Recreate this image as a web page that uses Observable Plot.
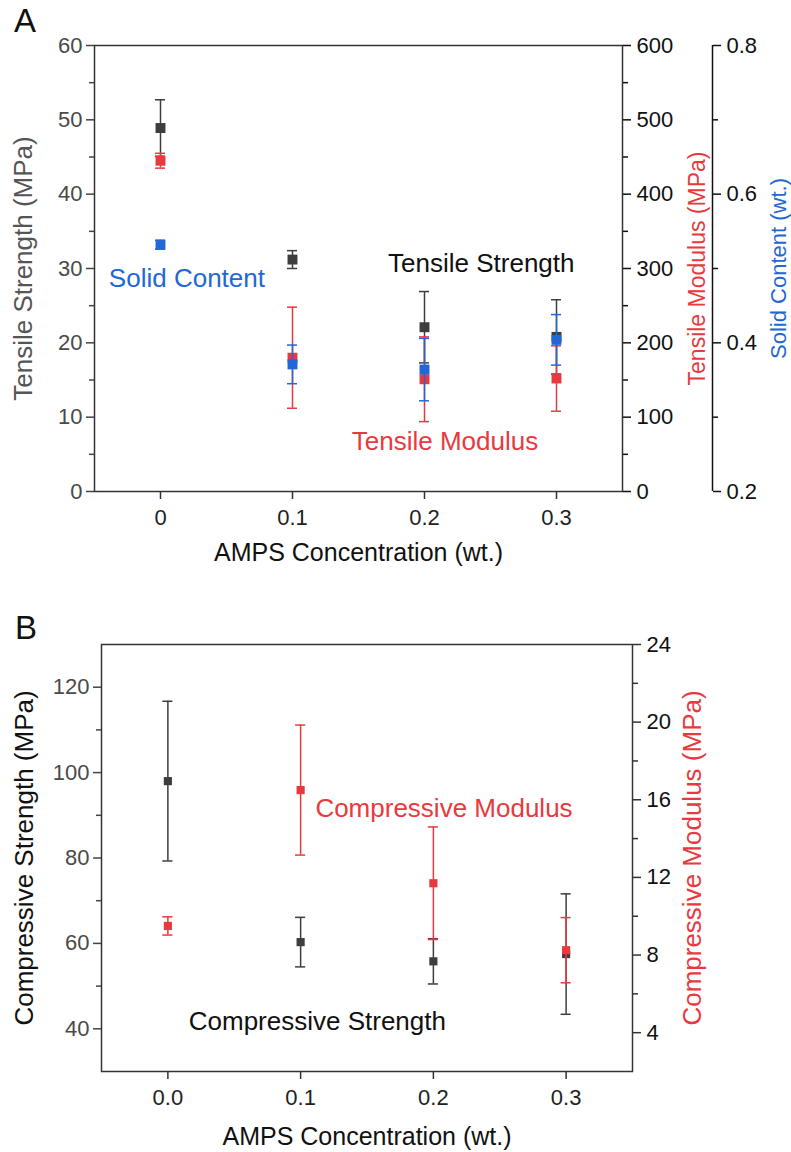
<!DOCTYPE html>
<html>
<head>
<meta charset="utf-8">
<script src="https://cdn.jsdelivr.net/npm/d3@7"></script>
<script src="https://cdn.jsdelivr.net/npm/@observablehq/plot@0.6"></script>
<style>
  html, body { margin: 0; padding: 0; background: #fff; }
  #wrap { position: relative; width: 791px; height: 1152px; font-family: "Liberation Sans", Arial, sans-serif; }
  .pl { position: absolute; font-size: 33px; line-height: 1; color: #111; }
  #a, #b { position: absolute; left: 0; }
  #a { top: 0; }
  #b { top: 560px; }
</style>
</head>
<body>
<div id="wrap">
  <div id="a"></div>
  <div id="b"></div>
  <div class="pl" style="left:14px;top:4px">A</div>
  <div class="pl" style="left:15px;top:611px">B</div>
</div>
<script>
// ---------- data ----------
const amps = [0, 0.1, 0.2, 0.3];

// Panel A
const tensileStrength    = [48.9, 31.2, 22.1, 20.8];
const tensileStrengthErr = [3.8, 1.2, 4.8, 5.0];
const tensileModulus     = [445, 180, 151, 152];
const tensileModulusErr  = [10, 68, 57, 44];
const solidContent       = [0.532, 0.371, 0.364, 0.404];
const solidContentErr    = [0.006, 0.026, 0.042, 0.034];

// Panel B
const compStrength    = [98.0, 60.3, 55.8, 57.5];
const compStrengthErr = [18.7, 5.8, 5.3, 14.1];
const compModulus     = [9.5, 16.5, 11.7, 8.25];
const compModulusErr  = [0.47, 3.35, 2.9, 1.68];

// tick labels
const xTicks = [0, 0.1, 0.2, 0.3];
const tsTicks = [0, 10, 20, 30, 40, 50, 60];
const tsMinor = [5, 15, 25, 35, 45, 55];
const tmTicks = [0, 100, 200, 300, 400, 500, 600];
const tmMinor = [50, 150, 250, 350, 450, 550];
const scTicks = [0.2, 0.4, 0.6, 0.8];
const scMinor = [0.3, 0.5, 0.7];
const csTicks = [40, 60, 80, 100, 120];
const csMinor = [50, 70, 90, 110];
const cmTicks = [4, 8, 12, 16, 20, 24];
const cmMinor = [6, 10, 14, 18, 22];

// annotations
const annotA = [
  {x: 0.020, y: 28.6, text: "Solid Content", color: "#2267d6"},
  {x: 0.243, y: 30.6, text: "Tensile Strength", color: "#111"},
  {x: 0.2155, y: 6.7, text: "Tensile Modulus", color: "#e8393e"}
];
const annotB = [
  {x: 0.208, y: 91.6, text: "Compressive Modulus", color: "#e8393e"},
  {x: 0.1126, y: 41.7, text: "Compressive Strength", color: "#111"}
];

// ---------- styling ----------
const FONT = "Liberation Sans, Arial, sans-serif";
const DARK = "#3d3d3d";
const RED = "#e8393e";
const BLUE = "#2267d6";
const CAP = 0.0038;
const TICKFS = 22;

function rows(vals, errs, map = v => v) {
  return amps.map((x, i) => ({x, y: map(vals[i]), lo: map(vals[i] - errs[i]), hi: map(vals[i] + errs[i])}));
}
function errMarks(data, color, r) {
  return [
    Plot.ruleX(data, {x: "x", y1: "lo", y2: "hi", stroke: color, strokeWidth: 1.5}),
    Plot.ruleY(data, {y: "hi", x1: d => d.x - CAP, x2: d => d.x + CAP, stroke: color, strokeWidth: 1.5}),
    Plot.ruleY(data, {y: "lo", x1: d => d.x - CAP, x2: d => d.x + CAP, stroke: color, strokeWidth: 1.5}),
    Plot.dot(data, {x: "x", y: "y", symbol: "square", r, fill: color, stroke: null})
  ];
}

// ---------- Panel A ----------
const tmToTs = d3.scaleLinear([0, 600], [0, 60]);
const scToTs = d3.scaleLinear([0.2, 0.8], [0, 60]);

const tsRows = rows(tensileStrength, tensileStrengthErr);
const tmRows = rows(tensileModulus, tensileModulusErr, tmToTs);
const scRows = rows(solidContent, solidContentErr, scToTs);

const plotA = Plot.plot({
  width: 791, height: 560,
  marginTop: 45, marginBottom: 69, marginLeft: 94, marginRight: 169,
  style: {fontFamily: FONT, background: "transparent", overflow: "visible"},
  x: {domain: [-0.05, 0.35]},
  y: {domain: [0, 60]},
  marks: [
    Plot.frame({stroke: "#333", strokeWidth: 1.5}),
    // x axis
    Plot.axisX({ticks: xTicks, tickSize: 8, tickPadding: 10, tickFormat: d3.format("~g"), fontSize: TICKFS, fill: "#222", stroke: "#333", strokeWidth: 1.5, label: null}),
    Plot.axisX({ticks: [], label: "AMPS Concentration (wt.)", labelAnchor: "center", labelArrow: "none", labelOffset: 69, fontSize: 25, fill: "#111"}),
    // left axis
    Plot.axisY({ticks: tsTicks, tickSize: 8, tickPadding: 4, fontSize: TICKFS, fill: "#4a4a4a", stroke: "#444", strokeWidth: 1.5, label: null}),
    Plot.axisY({ticks: tsMinor, tickSize: 5, tickFormat: () => "", stroke: "#444", strokeWidth: 1.5, label: null}),
    Plot.axisY({ticks: [], label: "Tensile Strength (MPa)", labelAnchor: "center", labelArrow: "none", labelOffset: 81, fontSize: 26, fill: "#555"}),
    // right axis: tensile modulus
    Plot.axisY({anchor: "right", ticks: tmTicks.map(tmToTs), tickFormat: d => Math.round(tmToTs.invert(d)), tickSize: 8, tickPadding: 6, fontSize: TICKFS, fill: "#111", stroke: "#111", strokeWidth: 1.5, label: null}),
    Plot.axisY({anchor: "right", ticks: tmMinor.map(tmToTs), tickSize: 5, tickFormat: () => "", stroke: "#111", strokeWidth: 1.5, label: null}),
    Plot.axisY({anchor: "right", ticks: [], label: "Tensile Modulus (MPa)", labelAnchor: "center", labelArrow: "none", labelOffset: 82, fontSize: 23, fill: RED}),
    // offset axis: solid content
    Plot.ruleX([0.35], {dx: 90, stroke: "#111", strokeWidth: 1.5}),
    Plot.axisY({anchor: "right", dx: 90, ticks: scTicks.map(scToTs), tickFormat: d => scToTs.invert(d).toFixed(1), tickSize: 8, tickPadding: 6, fontSize: TICKFS, fill: "#111", stroke: "#111", strokeWidth: 1.5, label: null}),
    Plot.axisY({anchor: "right", dx: 90, ticks: scMinor.map(scToTs), tickSize: 5, tickFormat: () => "", stroke: "#111", strokeWidth: 1.5, label: null}),
    Plot.axisY({anchor: "right", ticks: [], label: "Solid Content (wt.)", labelAnchor: "center", labelArrow: "none", labelOffset: 163, fontSize: 22, fill: BLUE}),
    // data
    ...errMarks(tsRows, DARK, 5.6),
    ...errMarks(tmRows, RED, 5.6),
    ...errMarks(scRows, BLUE, 5.6),
    // annotations
    Plot.text(annotA, {x: "x", y: "y", text: "text", fill: "color", fontSize: 26})
  ]
});
document.getElementById("a").appendChild(plotA);

// ---------- Panel B ----------
const cmToCs = d3.scaleLinear([2, 24], [30, 130]);
const csRows = rows(compStrength, compStrengthErr);
const cmRows = rows(compModulus, compModulusErr, cmToCs);

const plotB = Plot.plot({
  width: 791, height: 592,
  marginTop: 84, marginBottom: 81, marginLeft: 101, marginRight: 159,
  style: {fontFamily: FONT, background: "transparent", overflow: "visible"},
  x: {domain: [-0.05, 0.35]},
  y: {domain: [30, 130]},
  marks: [
    Plot.frame({stroke: "#333", strokeWidth: 1.5}),
    Plot.axisX({ticks: xTicks, tickSize: 8, tickPadding: 10, tickFormat: d3.format(".1f"), fontSize: TICKFS, fill: "#222", stroke: "#333", strokeWidth: 1.5, label: null}),
    Plot.axisX({ticks: [], label: "AMPS Concentration (wt.)", labelAnchor: "center", labelArrow: "none", labelOffset: 73, fontSize: 25, fill: "#111"}),
    Plot.axisY({ticks: csTicks, tickSize: 8, tickPadding: 4, fontSize: TICKFS, fill: "#4a4a4a", stroke: "#444", strokeWidth: 1.5, label: null}),
    Plot.axisY({ticks: csMinor, tickSize: 5, tickFormat: () => "", stroke: "#444", strokeWidth: 1.5, label: null}),
    Plot.axisY({ticks: [], label: "Compressive Strength (MPa)", labelAnchor: "center", labelArrow: "none", labelOffset: 87, fontSize: 26, fill: "#111"}),
    Plot.axisY({anchor: "right", ticks: cmTicks.map(cmToCs), tickFormat: d => Math.round(cmToCs.invert(d)), tickSize: 8, tickPadding: 6, fontSize: TICKFS, fill: "#111", stroke: "#333", strokeWidth: 1.5, label: null}),
    Plot.axisY({anchor: "right", ticks: cmMinor.map(cmToCs), tickSize: 5, tickFormat: () => "", stroke: "#333", strokeWidth: 1.5, label: null}),
    Plot.axisY({anchor: "right", ticks: [], label: "Compressive Modulus (MPa)", labelAnchor: "center", labelArrow: "none", labelOffset: 68, fontSize: 26, fill: RED}),
    ...errMarks(csRows, DARK, 4.6),
    ...errMarks(cmRows, RED, 4.6),
    Plot.text(annotB, {x: "x", y: "y", text: "text", fill: "color", fontSize: 26})
  ]
});
document.getElementById("b").appendChild(plotB);
</script>
</body>
</html>
